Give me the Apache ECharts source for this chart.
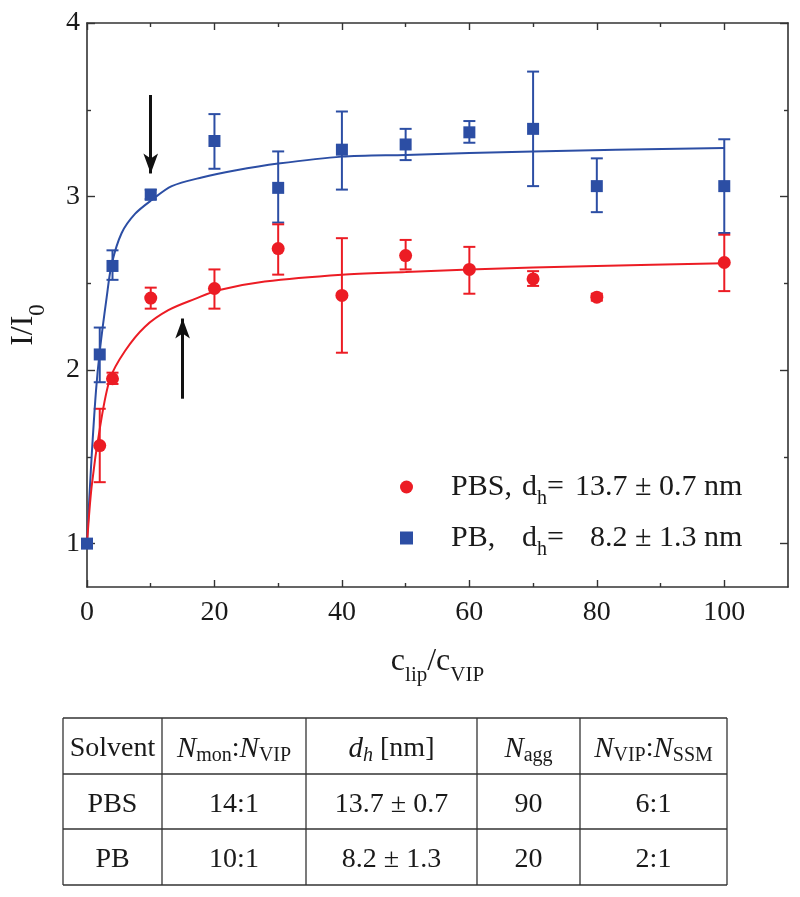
<!DOCTYPE html>
<html><head><meta charset="utf-8">
<script src="https://cdn.jsdelivr.net/npm/echarts@6/dist/echarts.min.js"></script>
<style>html,body{margin:0;padding:0;background:#fff}#chart{width:800px;height:897px}</style>
</head><body><div id="chart"></div>
<script>
// ---------------- data ----------------
const xTickValues = [0, 20, 40, 60, 80, 100];
const xMinorTickValues = [10, 30, 50, 70, 90];
const yTickValues = [1, 2, 3, 4];
const yMinorTickValues = [1.5, 2.5, 3.5];

// PB (blue squares)
const pbX  = [0, 2, 4, 10, 20, 30, 40, 50, 60, 70, 80, 100];
const pbY  = [1.00, 2.09, 2.60, 3.01, 3.32, 3.05, 3.27, 3.30, 3.37, 3.39, 3.06, 3.06];
const pbHi = [1.02, 2.245, 2.69, 3.04, 3.475, 3.26, 3.49, 3.39, 3.435, 3.72, 3.22, 3.33];
const pbLo = [0.98, 1.93, 2.52, 2.985, 3.16, 2.85, 3.04, 3.21, 3.31, 3.06, 2.91, 2.79];

// PBS (red circles)
const pbsX  = [2, 4, 10, 20, 30, 40, 50, 60, 70, 80, 100];
const pbsY  = [1.565, 1.95, 2.415, 2.47, 2.70, 2.43, 2.66, 2.58, 2.525, 2.42, 2.62];
const pbsHi = [1.777, 1.985, 2.475, 2.58, 2.84, 2.76, 2.75, 2.71, 2.57, 2.44, 2.78];
const pbsLo = [1.354, 1.92, 2.354, 2.354, 2.55, 2.10, 2.58, 2.44, 2.485, 2.40, 2.455];

// fitted curves
const pbFitX = [0, 0.63, 1.41, 2.04, 3.09, 3.87, 5.44, 7.53, 10.15, 13.3, 18, 23.2, 30, 40, 50, 70, 100];
const pbFitY = [1.00, 1.44, 1.88, 2.12, 2.42, 2.61, 2.79, 2.90, 2.98, 3.06, 3.11, 3.15, 3.19, 3.23, 3.24, 3.26, 3.28];
const pbsFitX = [0, 0.73, 2.04, 3.61, 5.96, 9.1, 12.76, 16.95, 20.6, 27.9, 40, 50, 60, 80, 100];
const pbsFitY = [1.0, 1.33, 1.67, 1.95, 2.11, 2.25, 2.345, 2.41, 2.46, 2.51, 2.55, 2.565, 2.58, 2.60, 2.615];

// arrows (x, from y, to y)
const arrowX = [10, 15];
const arrowFrom = [3.585, 1.835];
const arrowTo = [3.133, 2.297];

const seriesNames = ['PBS', 'PB'];
const dhValues = ['13.7 ± 0.7', '8.2 ± 1.3'];

const tableHeaders = ['Solvent', '{i|N}{s|mon}:{i|N}{s|VIP}', '{i|d}{si|h} [nm]', '{i|N}{s|agg}', '{i|N}{s|VIP}:{i|N}{s|SSM}'];
const tableRows = [
  ['PBS', '14:1', '13.7 ± 0.7', '90', '6:1'],
  ['PB', '10:1', '8.2 ± 1.3', '20', '2:1']
];

// ---------------- style / layout ----------------
const FONT = "'Liberation Serif', 'Times New Roman', 'DejaVu Serif', serif";
const BLUE = '#2c4ea4';
const RED = '#ec1c24';
const AXIS = '#333333';
const TXT = '#1a1a1a';
const TABLE_COLS = [63, 162, 306, 477, 580, 727];
const TABLE_ROWS = [718, 774, 829, 885];

const zip2 = (a, b) => a.map((v, i) => [v, b[i]]);
const zip3 = (a, b, c) => a.map((v, i) => [v, b[i], c[i]]);

function errRender(color) {
  return function (params, api) {
    const x = api.value(0), lo = api.value(1), hi = api.value(2);
    const t = api.coord([x, hi]), b = api.coord([x, lo]);
    const w = 6, st = { stroke: color, lineWidth: 2 };
    return { type: 'group', children: [
      { type: 'line', shape: { x1: t[0], y1: t[1], x2: b[0], y2: b[1] }, style: st },
      { type: 'line', shape: { x1: t[0] - w, y1: t[1], x2: t[0] + w, y2: t[1] }, style: st },
      { type: 'line', shape: { x1: b[0] - w, y1: b[1], x2: b[0] + w, y2: b[1] }, style: st }
    ]};
  };
}

function makeX(position, ticks, len, showLine, withLabels, extra) {
  return Object.assign({
    type: 'value', min: 0, max: 110, position,
    axisLine: { show: showLine, onZero: false, lineStyle: { color: AXIS, width: 1.6 } },
    axisTick: { show: true, inside: true, length: len, customValues: ticks, lineStyle: { color: AXIS, width: 1.4 } },
    axisLabel: withLabels ? { show: true, customValues: xTickValues, fontSize: 28, fontFamily: FONT, color: TXT, margin: 12 } : { show: false },
    splitLine: { show: false }, minorTick: { show: false }
  }, extra || {});
}
function makeY(position, ticks, len, showLine, withLabels) {
  return {
    type: 'value', min: 0.75, max: 4, position,
    axisLine: { show: showLine, onZero: false, lineStyle: { color: AXIS, width: 1.6 } },
    axisTick: { show: true, inside: true, length: len, customValues: ticks, lineStyle: { color: AXIS, width: 1.4 } },
    axisLabel: withLabels ? { show: true, customValues: yTickValues, fontSize: 28, fontFamily: FONT, color: TXT, margin: 7 } : { show: false },
    splitLine: { show: false }, minorTick: { show: false }
  };
}

// table graphic
function buildTable() {
  const els = [];
  const lineSt = { stroke: '#333', lineWidth: 1.3 };
  const L = TABLE_COLS[0], R = TABLE_COLS[TABLE_COLS.length - 1];
  const T = TABLE_ROWS[0], B = TABLE_ROWS[TABLE_ROWS.length - 1];
  TABLE_ROWS.forEach(y => els.push({ type: 'line', shape: { x1: L, y1: y, x2: R, y2: y }, style: lineSt }));
  TABLE_COLS.forEach(x => els.push({ type: 'line', shape: { x1: x, y1: T, x2: x, y2: B }, style: lineSt }));
  const base = { fontSize: 28, fontFamily: FONT, fill: TXT };
  const rich = {
    i: { fontSize: 29, fontFamily: FONT, fontStyle: 'italic', fill: TXT },
    s: { fontSize: 20, fontFamily: FONT, fill: TXT, padding: [14, 0, 0, 0] },
    si: { fontSize: 20, fontFamily: FONT, fontStyle: 'italic', fill: TXT, padding: [14, 0, 0, 0] }
  };
  const allRows = [tableHeaders].concat(tableRows);
  allRows.forEach((row, r) => {
    const cy = (TABLE_ROWS[r] + TABLE_ROWS[r + 1]) / 2 + 3;
    row.forEach((txt, c) => {
      const cx = (TABLE_COLS[c] + TABLE_COLS[c + 1]) / 2;
      els.push({ type: 'text', x: cx, y: cy, style: Object.assign({ text: txt, align: 'center', verticalAlign: 'middle', rich }, base) });
    });
  });
  return els;
}

const chart = echarts.init(document.getElementById('chart'), null, { renderer: 'canvas' });

const legendRich = {
  sp: { width: 33, fontSize: 30, fontFamily: FONT },
  n: { width: 71, fontSize: 30, fontFamily: FONT, color: TXT },
  d: { fontSize: 30, fontFamily: FONT, color: TXT },
  s: { fontSize: 20, fontFamily: FONT, color: TXT, padding: [24, 0, 0, 0] },
  e1: { width: 28, fontSize: 30, fontFamily: FONT, color: TXT },
  e2: { width: 43, fontSize: 30, fontFamily: FONT, color: TXT },
  v: { fontSize: 30, fontFamily: FONT, color: TXT }
};

const option = {
  animation: false,
  backgroundColor: '#ffffff',
  grid: { left: 87, right: 12, top: 23, bottom: 310, containLabel: false },
  xAxis: [
    makeX('bottom', xTickValues, 7, true, true, {
      name: '{a|c}{s|lip}{a|/c}{s|VIP}', nameLocation: 'middle', nameGap: 50,
      nameTextStyle: { rich: {
        a: { fontSize: 32, fontFamily: FONT, color: TXT },
        s: { fontSize: 21, fontFamily: FONT, color: TXT, padding: [28, 0, 0, 0] }
      } }
    }),
    makeX('bottom', xMinorTickValues, 4, false, false),
    makeX('top', xTickValues, 7, true, false),
    makeX('top', xMinorTickValues, 4, false, false)
  ],
  yAxis: [
    makeY('left', yTickValues, 8, true, true),
    makeY('left', yMinorTickValues, 4, false, false),
    makeY('right', yTickValues, 8, true, false),
    makeY('right', yMinorTickValues, 4, false, false)
  ],
  legend: {
    orient: 'vertical', left: 400, top: 472, padding: 0,
    itemWidth: 13, itemHeight: 13, itemGap: 14,
    data: [{ name: seriesNames[0], icon: 'circle' }, { name: seriesNames[1], icon: 'rect' }],
    formatter: function (name) {
      const i = seriesNames.indexOf(name);
      return '{sp| }{n|' + name + ',}{d|d}{s|h}{' + (i === 0 ? 'e1' : 'e2') + '|=}{v|' + dhValues[i] + ' nm}';
    },
    textStyle: { rich: legendRich }
  },
  graphic: [
    { type: 'text', x: 24, y: 325, rotation: Math.PI / 2,
      style: { text: '{a|I/I}{s|0}', align: 'center', verticalAlign: 'middle',
        rich: { a: { fontSize: 32, fontFamily: FONT, fill: TXT }, s: { fontSize: 23, fontFamily: FONT, fill: TXT, padding: [28, 0, 0, 0] } } } }
  ].concat(buildTable()),
  series: [
    { type: 'custom', name: 'PB err', renderItem: errRender(BLUE), data: zip3(pbX, pbLo, pbHi), encode: { x: 0, y: [1, 2] }, silent: true, z: 2 },
    { type: 'custom', name: 'PBS err', renderItem: errRender(RED), data: zip3(pbsX, pbsLo, pbsHi), encode: { x: 0, y: [1, 2] }, silent: true, z: 2 },
    { type: 'line', name: 'PB fit', data: zip2(pbFitX, pbFitY), showSymbol: false, smooth: 0.3,
      lineStyle: { color: BLUE, width: 2 }, itemStyle: { color: BLUE }, z: 3, silent: true },
    { type: 'line', name: 'PBS fit', data: zip2(pbsFitX, pbsFitY), showSymbol: false, smooth: 0.3,
      lineStyle: { color: RED, width: 2 }, itemStyle: { color: RED }, z: 3, silent: true,
      markLine: {
        silent: true, symbol: ['none', 'arrow'], symbolSize: [11, 20],
        lineStyle: { color: '#111', width: 3, type: 'solid' }, label: { show: false },
        data: arrowX.map((x, i) => [{ coord: [x, arrowFrom[i]] }, { coord: [x, arrowTo[i]] }])
      } },
    { type: 'scatter', name: 'PBS', data: zip2(pbsX, pbsY), symbol: 'circle', symbolSize: 13, itemStyle: { color: RED, opacity: 1 }, z: 4 },
    { type: 'scatter', name: 'PB', data: zip2(pbX, pbY), symbol: 'rect', symbolSize: 12, itemStyle: { color: BLUE, opacity: 1 }, z: 4 }
  ]
};
chart.setOption(option);
</script>
</body></html>
